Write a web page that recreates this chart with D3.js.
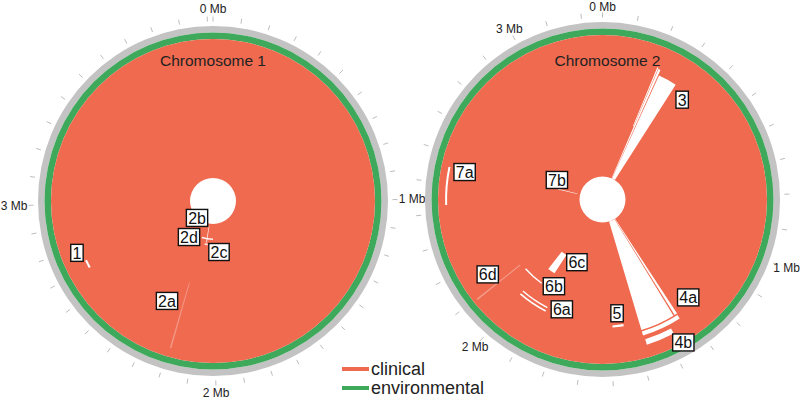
<!DOCTYPE html>
<html>
<head>
<meta charset="utf-8">
<script src="https://cdn.jsdelivr.net/npm/d3@7"></script>
<style>
  html, body { margin: 0; padding: 0; background: #fff; }
  svg { display: block; font-family: "Liberation Sans", Arial, sans-serif; }
</style>
</head>
<body>
<svg id="chart" width="800" height="400"></svg>
<script>
// ---------------- DATA ----------------
const chromosomeNames = ["Chromosome 1", "Chromosome 2"];
const chromosomeLengthsMb = [4.02, 3.26];
const majorTickValuesMb = [0, 1, 2, 3];
const majorTickLabels = ["0 Mb", "1 Mb", "2 Mb", "3 Mb"];
const minorTickStepMb = 0.1;
const legendLabels = ["clinical", "environmental"];

// Gaps (regions absent in clinical genomes): [startMb, endMb, trackFrom, trackTo, opacity]
// track: 0 = innermost clinical ring, 100 = outermost clinical ring
const gapsChrom1 = [
  [2.698, 2.736, 83.5, 85.0, 1],     // 1
  [2.1865, 2.1930, 44.6, 93.5, 0.3], // 2a
  [2.1027, 2.1161, 1.4, 13.7, 0.9],  // 2b
  [2.010, 2.200, 10.4, 11.5, 0.9],   // 2d
  [2.088, 2.133, 14.4, 15.5, 0.9]    // 2c
];
const gapsChrom2 = [
  [0.2219, 0.2943, 0, 80, 1],        // 3
  [0.2101, 0.2183, 0, 84, 1],        // 3
  [0.2038, 0.2083, 40, 85, 1],       // 3
  [1.3294, 1.3403, 0, 80, 1],        // 4a
  [1.3457, 1.4797, 0, 80, 1],        // 4a
  [1.3312, 1.4797, 81, 84, 1],       // 4a
  [1.3765, 1.4761, 87, 91, 1],       // 4b
  [1.5440, 1.5893, 73, 74.5, 1],     // 5
  [1.8746, 2.0014, 69, 70, 1],       // 6a
  [1.8746, 2.0014, 71.6, 72.7, 1],   // 6a
  [1.9561, 2.0648, 56.4, 57.4, 1],   // 6b
  [1.9289, 1.9742, 30.5, 46, 1],     // 6c
  [2.0937, 2.0985, 58, 97, 0.35],    // 6d
  [2.4270, 2.5538, 93.6, 95, 1],     // 7a
  [2.5583, 2.5674, 2, 16, 0.9]       // 7b
];

// Region annotations: [label, positionMb, track]
const annotationsChrom1 = [
  ["1", 2.782, 88.2],
  ["2a", 2.286, 62.6],
  ["2b", 2.494, 0.2],
  ["2c", 1.935, 20.4],
  ["2d", 2.386, 14.6]
];
const annotationsChrom2 = [
  ["3", 0.3495, 74.0],
  ["4a", 1.257, 75.7],
  ["4b", 1.363, 99.8],
  ["5", 1.564, 64.8],
  ["6a", 1.814, 66.5],
  ["6b", 1.895, 54.0],
  ["6c", 1.831, 31.6],
  ["6d", 2.145, 80.6],
  ["7a", 2.547, 83.1],
  ["7b", 2.655, 18.8]
];

// ---------------- LAYOUT / STYLE ----------------
const COLORS = { clinical: "#EF6A4F", environmental: "#3EA95B", backbone: "#C3C3C3", tick: "#BDBDBD", text: "#222" };
const layouts = [
  { cx: 213, cy: 201, R: 175, titleDx: 0, labelBase: 17, labelExtra: 7, gaps: gapsChrom1, notes: annotationsChrom1 },
  { cx: 602.5, cy: 199.5, R: 177.5, titleDx: 5, labelBase: 15.5, labelExtra: 4, gaps: gapsChrom2, notes: annotationsChrom2 }
];
const INNER_R = 23;

const svg = d3.select("#chart");

layouts.forEach((lay, i) => {
  const L = chromosomeLengthsMb[i];
  const g = svg.append("g").attr("transform", `translate(${lay.cx},${lay.cy})`);
  const angle = d3.scaleLinear().domain([0, L]).range([0, 2 * Math.PI]);
  const rClin = lay.R - 13;
  const rEnv = lay.R - 6.5;
  const track = d3.scaleLinear().domain([0, 100]).range([INNER_R, rClin]);
  const arc = d3.arc();

  // backbone ring (gray)
  g.append("path").attr("d", arc({ innerRadius: rEnv, outerRadius: lay.R, startAngle: 0, endAngle: 2 * Math.PI }))
    .attr("fill", COLORS.backbone);
  // environmental ring
  g.append("path").attr("d", arc({ innerRadius: rClin, outerRadius: rEnv, startAngle: 0, endAngle: 2 * Math.PI }))
    .attr("fill", COLORS.environmental);
  // clinical rings
  g.append("path").attr("d", arc({ innerRadius: track(0), outerRadius: track(100), startAngle: 0, endAngle: 2 * Math.PI }))
    .attr("fill", COLORS.clinical);

  // gaps
  g.selectAll("path.gap").data(lay.gaps).join("path")
    .attr("class", "gap")
    .attr("d", d => arc({ innerRadius: track(d[2]), outerRadius: track(d[3]), startAngle: angle(d[0]), endAngle: angle(d[1]) }))
    .attr("fill", "#fff")
    .attr("fill-opacity", d => d[4]);

  // ticks
  const ticks = d3.range(0, Math.floor(L / minorTickStepMb + 1e-6) + 1).map(k => +(k * minorTickStepMb).toFixed(2));
  g.selectAll("line.tick").data(ticks).join("line")
    .attr("class", "tick")
    .attr("x1", d => (lay.R + 4.5) * Math.sin(angle(d)))
    .attr("y1", d => -(lay.R + 4.5) * Math.cos(angle(d)))
    .attr("x2", d => (lay.R + 9.5) * Math.sin(angle(d)))
    .attr("y2", d => -(lay.R + 9.5) * Math.cos(angle(d)))
    .attr("stroke", COLORS.tick)
    .attr("stroke-width", 1);

  // major tick labels
  majorTickValuesMb.forEach((v, k) => {
    const a = angle(v);
    const s = Math.sin(a);
    const dist = lay.R + lay.labelBase + lay.labelExtra * s * s;
    g.append("text").text(majorTickLabels[k])
      .attr("font-size", 12).attr("fill", COLORS.text)
      .attr("text-anchor", "middle").attr("dominant-baseline", "central")
      .attr("x", dist * Math.sin(a))
      .attr("y", -dist * Math.cos(a));
  });

  // title
  g.append("text").text(chromosomeNames[i])
    .attr("x", lay.titleDx).attr("y", 66 - lay.cy)
    .attr("text-anchor", "middle").attr("font-size", 15.5).attr("fill", COLORS.text);

  // annotation boxes
  const notes = g.selectAll("g.note").data(lay.notes).join("g")
    .attr("class", "note")
    .attr("transform", d => {
      const a = angle(d[1]), r = track(d[2]);
      return `translate(${r * Math.sin(a)},${-r * Math.cos(a)})`;
    });
  notes.each(function (d) {
    const n = d3.select(this);
    const rect = n.append("rect").attr("fill", "#fff").attr("stroke", "#111").attr("stroke-width", 1.4);
    const t = n.append("text").text(d[0]).attr("font-size", 16).attr("fill", "#111")
      .attr("text-anchor", "middle").attr("dominant-baseline", "central").attr("y", 0.5);
    const w = t.node().getComputedTextLength() + 3.5;
    rect.attr("x", -w / 2).attr("y", -8.5).attr("width", w).attr("height", 17);
  });
});

// legend
const legend = svg.append("g").attr("transform", "translate(342,369)");
const legendColors = [COLORS.clinical, COLORS.environmental];
const items = legend.selectAll("g").data(legendLabels).join("g")
  .attr("transform", (d, k) => `translate(0,${k * 19})`);
items.append("line").attr("x1", 0).attr("x2", 27).attr("y1", 0).attr("y2", 0)
  .attr("stroke", (d, k) => legendColors[k]).attr("stroke-width", 4);
items.append("text").text(d => d).attr("x", 29).attr("y", 0)
  .attr("dominant-baseline", "central").attr("font-size", 18).attr("fill", COLORS.text);
</script>
</body>
</html>
